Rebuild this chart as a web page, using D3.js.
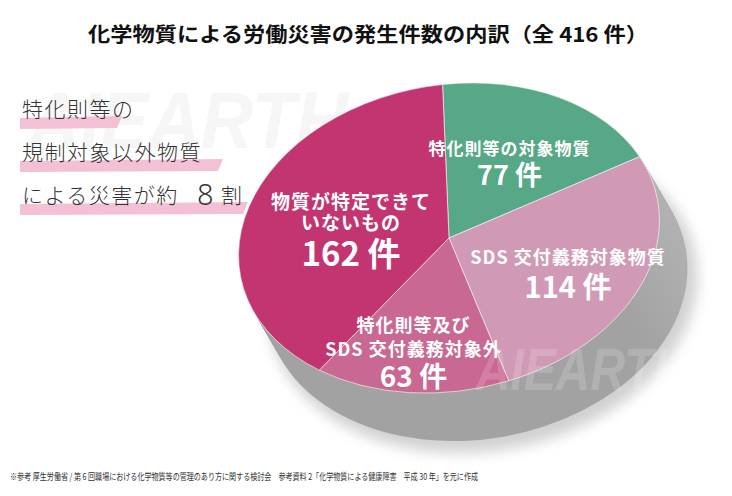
<!DOCTYPE html>
<html>
<head>
<meta charset="utf-8">
<script src="https://cdn.jsdelivr.net/npm/d3@7"></script>
<style>
  body { margin: 0; background: #fff; }
  svg { display: block; }
</style>
</head>
<body>
<div id="chart"></div>
<script>
// data
const categories = ["特化則等の対象物質", "SDS交付義務対象物質", "特化則等及びSDS交付義務対象外", "物質が特定できていないもの"];
const counts = [77, 114, 63, 162];
const labelLines = [["特化則等の対象物質"], ["SDS 交付義務対象物質"], ["特化則等及び", "SDS 交付義務対象外"], ["物質が特定できて", "いないもの"]];
const sliceColors = ["#56a886", "#d09ab6", "#c86893", "#c33570"];
const noteLines = ["特化則等の", "規制対象以外物質", "による災害が約"];

const width = 732, height = 496;
const cx = 449, cy = 238, rx = 212, ry = 153, tilt = -10;
const depth = [28, 48];
const font = "'Noto Sans CJK JP', 'Noto Sans', sans-serif";

const svg = d3.select("#chart").append("svg")
  .attr("width", width)
  .attr("height", height);

const defs = svg.append("defs");
const grad = defs.append("linearGradient")
  .attr("id", "side")
  .attr("gradientUnits", "userSpaceOnUse")
  .attr("x1", 260).attr("y1", 400).attr("x2", 700).attr("y2", 250);
grad.append("stop").attr("offset", 0).attr("stop-color", "#a2a2a2");
grad.append("stop").attr("offset", 0.45).attr("stop-color", "#c6c6c6");
grad.append("stop").attr("offset", 1).attr("stop-color", "#e4e4e4");
defs.append("filter").attr("id", "blur")
  .attr("x", "-20%").attr("y", "-20%").attr("width", "140%").attr("height", "140%")
  .append("feGaussianBlur").attr("stdDeviation", 7);

// watermark behind
svg.append("text")
  .attr("x", 28).attr("y", 148)
  .attr("font-family", "'Liberation Sans', sans-serif")
  .attr("font-weight", "bold").attr("font-style", "italic")
  .attr("font-size", 80)
  .attr("textLength", 320).attr("lengthAdjust", "spacingAndGlyphs")
  .attr("fill", "#f6f6f6")
  .text("AIEARTH");

// title
svg.append("text")
  .attr("x", 368).attr("y", 42)
  .attr("text-anchor", "middle")
  .attr("font-family", font).attr("font-weight", "bold")
  .attr("font-size", 20)
  .attr("textLength", 560).attr("lengthAdjust", "spacingAndGlyphs")
  .attr("fill", "#111")
  .text("化学物質による労働災害の発生件数の内訳（全 416 件）");

// left note with highlight strokes
const note = svg.append("g");
const noteY = [110, 153, 196];
const barEnd = [120, 221, 246];
note.selectAll("path.hl")
  .data(noteLines)
  .join("path")
  .attr("class", "hl")
  .attr("fill", "#f3c0d6")
  .attr("d", (d, i) => {
    const y = noteY[i] + 7, x1 = barEnd[i];
    return `M20,${y + 1}L${x1 + 2},${y - 1}L${x1 - 3},${y + 11}L20,${y + 12}Z`;
  });
note.selectAll("text.nt")
  .data(noteLines)
  .join("text")
  .attr("class", "nt")
  .attr("x", 22)
  .attr("y", (d, i) => noteY[i] + 7)
  .attr("font-family", font).attr("font-weight", 300)
  .attr("font-size", 21)
  .attr("letter-spacing", 1.5)
  .attr("fill", "#333")
  .text(d => d);
note.append("text")
  .attr("x", 197).attr("y", 205)
  .attr("font-family", "'Noto Sans', sans-serif").attr("font-weight", 300)
  .attr("font-size", 29)
  .attr("fill", "#333")
  .text("8");
note.append("text")
  .attr("x", 221).attr("y", 203)
  .attr("font-family", font).attr("font-weight", 300)
  .attr("font-size", 21)
  .attr("fill", "#333")
  .text("割");

// 3D side: shadow + stacked ellipses
const t = tilt * Math.PI / 180;
svg.append("ellipse")
  .attr("rx", rx + 4).attr("ry", ry + 4)
  .attr("transform", `translate(${cx + depth[0] + 6},${cy + depth[1] + 8}) rotate(${tilt})`)
  .attr("fill", "#000").attr("opacity", 0.18)
  .attr("filter", "url(#blur)");

const steps = d3.range(1, -0.0001, -1 / 50);
svg.append("g").selectAll("ellipse")
  .data(steps)
  .join("ellipse")
  .attr("rx", rx).attr("ry", ry)
  .attr("transform", s => `translate(${cx + depth[0] * s},${cy + depth[1] * s}) rotate(${tilt})`)
  .attr("fill", "url(#side)");

// top face
const pie = d3.pie().sort(null)
  .startAngle(5.5 * Math.PI / 180)
  .endAngle(5.5 * Math.PI / 180 + 2 * Math.PI);
const arcs = pie(counts);
const arc = d3.arc().innerRadius(0).outerRadius(rx);

svg.append("g")
  .attr("transform", `translate(${cx},${cy}) rotate(${tilt}) scale(1,${ry / rx})`)
  .selectAll("path")
  .data(arcs)
  .join("path")
  .attr("d", arc)
  .attr("fill", (d, i) => sliceColors[i])
  .attr("stroke", "#fff").attr("stroke-opacity", 0.6)
  .attr("stroke-width", 1)
  .attr("vector-effect", "non-scaling-stroke");

// project a point of the tilted disk
function project(a, k) {
  const x0 = k * rx * Math.sin(a), y0 = -k * ry * Math.cos(a);
  return [cx + x0 * Math.cos(t) - y0 * Math.sin(t), cy + x0 * Math.sin(t) + y0 * Math.cos(t)];
}

// labels
const labelK = [0.55, 0.62, 0.75, 0.49];
const labelDx = [0, 0, -6, 0];
const lineDy = [[-13], [-11], [-30, -6], [-22, -1]];
const numDy = [13, 18, 21, 29];
const lineSize = [17, 18, 18, 19];
const numSize = [27, 29, 28, 33];

const labels = svg.append("g")
  .attr("font-family", font).attr("font-weight", "bold")
  .attr("fill", "#fff").attr("text-anchor", "middle");
arcs.forEach((d, i) => {
  const [x, y] = project((d.startAngle + d.endAngle) / 2, labelK[i]);
  const g = labels.append("g").attr("transform", `translate(${x + labelDx[i]},${y})`);
  g.selectAll("text.l")
    .data(labelLines[i])
    .join("text")
    .attr("class", "l")
    .attr("y", (s, j) => lineDy[i][j])
    .attr("dominant-baseline", "central")
    .attr("font-size", lineSize[i])
    .attr("letter-spacing", 1)
    .text(s => s);
  g.append("text")
    .attr("y", numDy[i])
    .attr("dominant-baseline", "central")
    .attr("font-size", numSize[i])
    .text(counts[i] + " 件");
});

// watermark on top (faint)
svg.append("text")
  .attr("x", 476).attr("y", 390)
  .attr("font-family", "'Liberation Sans', sans-serif")
  .attr("font-weight", "bold").attr("font-style", "italic")
  .attr("font-size", 60)
  .attr("textLength", 212).attr("lengthAdjust", "spacingAndGlyphs")
  .attr("fill", "#fff").attr("opacity", 0.16)
  .text("AIEARTH");
svg.append("text")
  .attr("x", 700).attr("y", 390)
  .attr("font-family", "'Liberation Sans', sans-serif")
  .attr("font-size", 10)
  .attr("fill", "#fff").attr("opacity", 0.45)
  .text("®");

// source note
svg.append("text")
  .attr("x", 10).attr("y", 480)
  .attr("font-family", font)
  .attr("font-size", 9.5)
  .attr("textLength", 468).attr("lengthAdjust", "spacingAndGlyphs")
  .attr("fill", "#333")
  .text("※参考 厚生労働省 / 第 6 回職場における化学物質等の管理のあり方に関する検討会　参考資料 2「化学物質による健康障害　平成 30 年」を元に作成");
</script>
</body>
</html>
